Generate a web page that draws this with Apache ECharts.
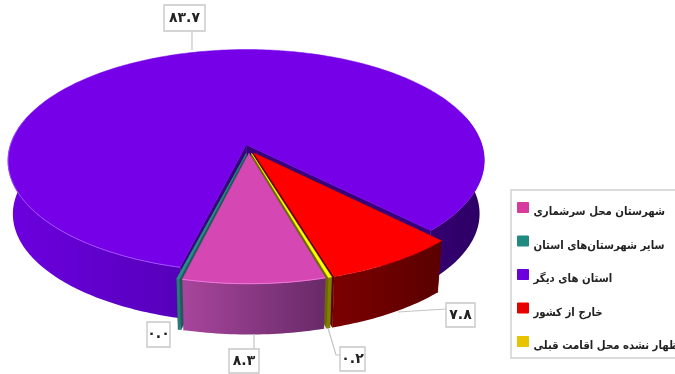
<!DOCTYPE html>
<html>
<head>
<meta charset="utf-8">
<style>html,body{margin:0;padding:0;background:#fff}#c{width:675px;height:374px}</style>
<script src="https://cdn.jsdelivr.net/npm/echarts@6/dist/echarts.min.js"></script>
</head>
<body>
<div id="c"></div>
<script>
const categories = ['شهرستان محل سرشماری', 'سایر شهرستان‌های استان', 'استان های دیگر', 'خارج از کشور', 'اظهار نشده محل اقامت قبلی'];
const shareValues = [8.3, 0.0, 83.7, 7.8, 0.2];

const topColors = ['#d548b4', '#2a8c8c', '#7600e8', '#ff0000', '#ffff00'];
const wallColors = ['#8a3080', '#1c5c5c', '#38007e', '#620000', '#6a6a00'];
const legendColors = ['#d63a9c', '#1f8a80', '#6c00dc', '#e60000', '#e8c400'];
const sideStops = [
  [[0, '#a8459c'], [1, '#682a68']],
  [[0, '#2a7a7a'], [1, '#2a7a7a']],
  [[0, '#6c00e0'], [0.36, '#5600ba'], [0.9, '#33006e'], [1, '#2c0064']],
  [[0, '#7c0000'], [1, '#5a0000']],
  [[0, '#808000'], [1, '#808000']]
];
const rimColors = ['#f078dc', null, '#a050ff', null, null];
const seriesZ = [6, 5, 2, 3, 5];

// perspective geometry of the tilted pie
const ORIGIN = {x: 248.8, y: 149}, R = 237, H = 110, K = 0.144, DEPTH = 53.5, FOOT = 0.98;
const EXPLODE = 0.041, START = 16, MIN_SWEEP = 0.6;
// label boxes: [x, y, w, h] and leader polyline
const labelLayout = [
  {box: [229, 349, 30, 24], line: [[254, 334], [254, 349]]},
  {box: [147, 322, 23, 25], line: null},
  {box: [164, 5, 41, 26], line: [[192, 31], [192, 50]]},
  {box: [446, 303, 29, 24], line: [[446, 309], [398, 312]]},
  {box: [340, 347, 25, 24], line: [[328, 328], [336, 355], [340, 355]]}
];

const rad = d => d * Math.PI / 180;
const persian = s => s.replace(/[0-9]/g, d => '۰۱۲۳۴۵۶۷۸۹'[+d]);

// world point on the disc (u right, v toward the viewer) -> screen
function toScreen(u, v, foot) {
  const w = 1 - K * v, s = foot ? FOOT : 1;
  return [ORIGIN.x + s * R * u / w, ORIGIN.y + (foot ? DEPTH : 0) + s * H * v / w];
}
function sliceAngles(i) {
  let cum = 0;
  for (let j = 0; j < i; j++) cum += shareValues[j];
  const a0 = START - cum * 3.6;
  const sweep = Math.max(shareValues[i] * 3.6, MIN_SWEEP);
  return [a0, a0 - sweep];
}
function renderSlice(i) {
  const [a0, a1] = sliceAngles(i);
  const mid = (a0 + a1) / 2;
  const ou = EXPLODE * Math.sin(rad(mid)), ov = EXPLODE * Math.cos(rad(mid));
  const rimPt = (phi, foot) => toScreen(ou + Math.sin(rad(phi)), ov + Math.cos(rad(phi)), foot);
  const apex = toScreen(ou, ov, false), apexFoot = toScreen(ou, ov, true);
  const children = [];
  const wall = (phi) => children.push({
    type: 'polygon',
    shape: {points: [apex, rimPt(phi, false), rimPt(phi, true), apexFoot]},
    style: {fill: wallColors[i], stroke: wallColors[i], lineWidth: 0.5}
  });
  wall(a0); wall(a1);
  const steps = Math.max(2, Math.ceil(a0 - a1));
  const runs = []; let run = [];
  for (let s = 0; s <= steps; s++) {
    const phi = a0 - (a0 - a1) * s / steps;
    if (Math.cos(rad(phi)) > -0.3) run.push(phi); else if (run.length) { runs.push(run); run = []; }
  }
  if (run.length) runs.push(run);
  runs.forEach(r => {
    if (r.length < 2) return;
    const pts = r.map(p => rimPt(p, false)).concat(r.slice().reverse().map(p => rimPt(p, true)));
    children.push({
      type: 'polygon', shape: {points: pts},
      style: {fill: new echarts.graphic.LinearGradient(i === 2 ? 8 : Math.min(pts[0][0], pts[r.length - 1][0]), 0,
        i === 2 ? 488 : Math.max(pts[0][0], pts[r.length - 1][0]) + 0.01, 0,
        sideStops[i].map(s => ({offset: s[0], color: s[1]})), true)}
    });
  });
  const top = [apex];
  for (let s = 0; s <= steps; s++) top.push(rimPt(a0 - (a0 - a1) * s / steps, false));
  children.push({type: 'polygon', shape: {points: top}, style: {fill: topColors[i], stroke: topColors[i], lineWidth: 0.5}});
  if (rimColors[i]) {
    const rim = [];
    for (let s = 0; s <= steps; s++) {
      const phi = a0 - (a0 - a1) * s / steps;
      if (Math.cos(rad(phi)) > -0.25 && Math.sin(rad(phi)) < 0.3) rim.push(rimPt(phi, false));
    }
    children.push({type: 'polyline', shape: {points: rim}, style: {stroke: rimColors[i], lineWidth: 1, fill: 'none'}});
  }
  const L = labelLayout[i];
  if (L.line) children.push({type: 'polyline', shape: {points: L.line}, style: {stroke: '#c4c4c4', lineWidth: 1.2, fill: 'none'}});
  children.push({type: 'rect', shape: {x: L.box[0], y: L.box[1], width: L.box[2], height: L.box[3]},
    style: {fill: '#fff', stroke: '#c8c8c8', lineWidth: 1.4}});
  children.push({type: 'text', style: {
    x: L.box[0] + L.box[2] / 2, y: L.box[1] + L.box[3] / 2,
    text: persian(shareValues[i].toFixed(1)), align: 'center', verticalAlign: 'middle',
    font: 'bold 14px "DejaVu Sans"', fill: '#222'}});
  return {type: 'group', children};
}

const chart = echarts.init(document.getElementById('c'), null, {renderer: 'canvas'});
chart.setOption({
  animation: false,
  backgroundColor: '#fff',
  legend: {
    orient: 'vertical', left: 511, top: 190, padding: [12, 90, 6, 6],
    selectedMode: false, itemWidth: 11, itemHeight: 10, itemGap: 17.5,
    borderColor: '#cfcfcf', borderWidth: 1.4,
    formatter: n => '{t|' + n + '}',
    textStyle: {
      rich: {t: {fontFamily: '"DejaVu Sans Condensed", "DejaVu Sans"', fontWeight: 'bold', fontSize: 11.3, color: '#222', padding: [10, 0, 0, 0]}}
    },
    data: categories.map((name, i) => ({
      name, icon: 'rect',
      itemStyle: {color: legendColors[i], borderColor: legendColors[i], borderWidth: 1, opacity: 1}
    }))
  },
  series: categories.map((name, i) => ({
    type: 'custom', name, coordinateSystem: 'none', z: seriesZ[i], silent: true,
    data: [shareValues[i]],
    renderItem: () => renderSlice(i)
  }))
});
</script>
</body>
</html>
